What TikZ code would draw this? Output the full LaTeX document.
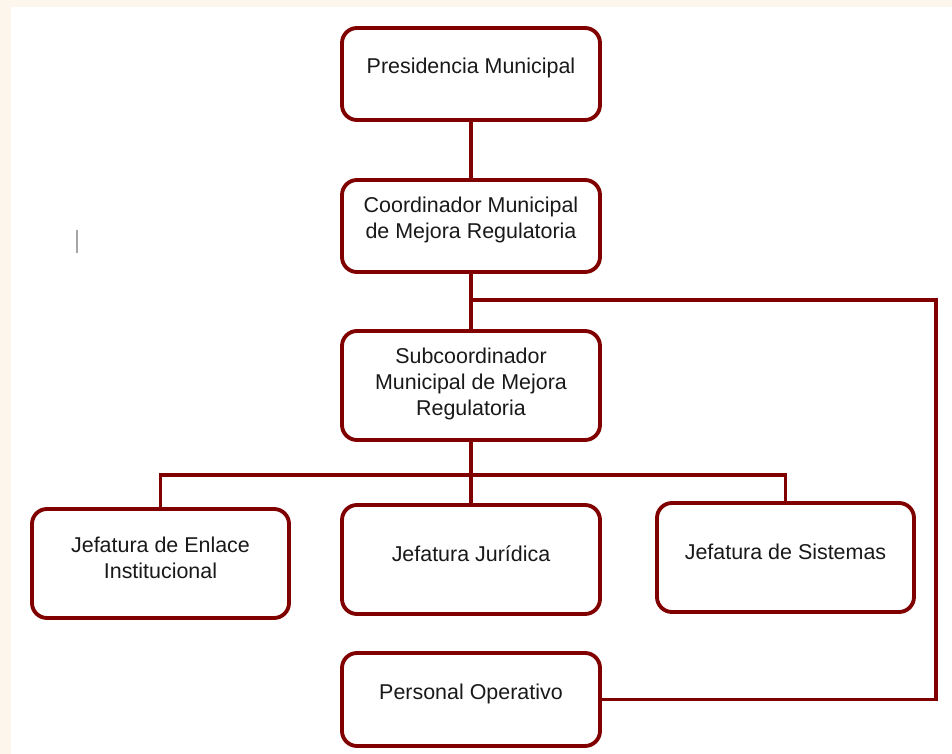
\documentclass[tikz,border=0pt]{standalone}
\usepackage{fontspec}
\setmainfont{Liberation Sans}
\usepackage{xcolor}
\usetikzlibrary{positioning}
\definecolor{orgred}{RGB}{128,0,0}
\definecolor{paper}{RGB}{252,246,236}
\tikzset{
  unit/.style={draw=orgred, line width=2.2pt, rounded corners=0.3cm, fill=white, minimum width=5.16cm, minimum height=1.84cm, inner sep=0pt},
  tall/.style={unit, minimum height=2.18cm},
  caption/.style={align=center, text=black!90, font=\fontsize{12.2}{14.8}\selectfont, yshift=0.12cm},
  link/.style={draw=orgred, line width=2.2pt}
}

\begin{document}
\begin{tikzpicture}
    % Page
    \useasboundingbox (0,0) rectangle (19.04,-15.08);
    \fill[paper] (0,0) rectangle (19.04,-15.08);
    \fill[white] (0.22,-0.14) rectangle (19.04,-15.08);
    \draw[gray!70, line width=0.6pt] (1.54,-4.6) -- (1.54,-5.06);
    % Units
    \node[unit, label={[caption]center:Presidencia Municipal}] (pres) at (9.42,-1.48) {};
    \node[unit, label={[caption]center:Coordinador Municipal\\de Mejora Regulatoria}] (coord) at (9.42,-4.52) {};
    \node[tall, label={[caption, yshift=-0.08cm]center:Subcoordinador\\Municipal de Mejora\\Regulatoria}] (subc) at (9.42,-7.71) {};
    \node[tall, minimum width=5.14cm, label={[caption]center:Jefatura de Enlace\\Institucional}] (enl) at (3.21,-11.27) {};
    \node[tall, label={[caption]center:Jefatura Jurídica}] (jur) at (9.42,-11.19) {};
    \node[tall, minimum width=5.14cm, label={[caption]center:Jefatura de Sistemas}] (sis) at (15.71,-11.15) {};
    \node[unit, minimum height=1.86cm, label={[caption]center:Personal Operativo}] (pers) at (9.42,-13.99) {};
    % Links
    \coordinate (split) at (9.42,-6.0);
    \coordinate (edge) at (18.72,-6.0);
    \coordinate (bus) at (9.42,-9.5);
    \draw[link] (pres) -- (coord);
    \draw[link] (coord) -- (subc);
    \draw[link] (split) -- (edge) |- (pers.east);
    \draw[link] (subc) -- (jur);
    \draw[link] (enl.north) |- (bus) -| (sis.north);
\end{tikzpicture}
\end{document}
